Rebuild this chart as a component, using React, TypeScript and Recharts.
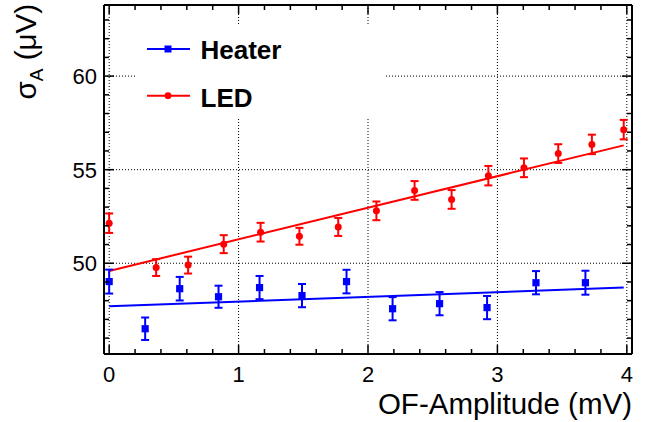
import React from 'react';
import {
  ComposedChart,
  Scatter,
  Line,
  XAxis,
  YAxis,
  ErrorBar,
  ReferenceLine,
  Legend,
} from 'recharts';

// LED pulses (red circles)
const ledX = [0, 0.363, 0.61, 0.885, 1.17, 1.47, 1.77, 2.065, 2.36, 2.646, 2.93, 3.205, 3.47, 3.73, 3.976];
const ledY = [52.14, 49.77, 49.9, 51.02, 51.66, 51.44, 51.94, 52.8, 53.89, 53.41, 54.68, 55.1, 55.86, 56.35, 57.14];
const ledErr = [0.52, 0.45, 0.45, 0.48, 0.5, 0.45, 0.48, 0.5, 0.5, 0.5, 0.52, 0.5, 0.5, 0.52, 0.52];

// Heater pulses (blue squares)
const heaterX = [0, 0.278, 0.545, 0.845, 1.162, 1.49, 1.834, 2.19, 2.553, 2.92, 3.298, 3.68];
const heaterY = [49.02, 46.5, 48.64, 48.21, 48.7, 48.27, 49.02, 47.57, 47.84, 47.63, 48.96, 48.96];
const heaterErr = [0.64, 0.6, 0.63, 0.59, 0.62, 0.62, 0.63, 0.62, 0.62, 0.62, 0.62, 0.64];

// linear fits (end points)
const fitX = [0, 3.976];
const ledFitY = [49.59, 56.3];
const heaterFitY = [47.7, 48.7];

// axes
const xDomain = [-0.04, 4.04];
const yDomain = [45.15, 63.8];
const xTicks = [0, 0.2, 0.4, 0.6, 0.8, 1, 1.2, 1.4, 1.6, 1.8, 2, 2.2, 2.4, 2.6, 2.8, 3, 3.2, 3.4, 3.6, 3.8, 4];
const yTicks = [46, 47, 48, 49, 50, 51, 52, 53, 54, 55, 56, 57, 58, 59, 60, 61, 62, 63];
const gridX = [0, 1, 2, 3, 4];
const gridY = [50, 55, 60];

const RED = '#ff0000';
const BLUE = '#0000ff';
const FONT = '"Liberation Sans", Arial, Helvetica, sans-serif';

const ledData = ledX.map((x, i) => ({ x, y: ledY[i], err: ledErr[i] }));
const heaterData = heaterX.map((x, i) => ({ x, y: heaterY[i], err: heaterErr[i] }));
const ledFit = fitX.map((x, i) => ({ x, y: ledFitY[i] }));
const heaterFit = fitX.map((x, i) => ({ x, y: heaterFitY[i] }));

const isMajorX = (v: number) => Math.abs(v - Math.round(v)) < 1e-6;
const isMajorY = (v: number) => v % 5 === 0;

function XTick(props: any) {
  const { x, y, payload, side } = props;
  const major = isMajorX(payload.value);
  const len = major ? 9 : 5;
  const dir = side === 'bottom' ? -1 : 1;
  return (
    <g>
      <line x1={x} x2={x} y1={y} y2={y + dir * len} stroke="#000" strokeWidth={1.5} />
      {side === 'bottom' && major && (
        <text x={x} y={y + 28} textAnchor="middle" fontSize={22} fontFamily={FONT} fill="#000">
          {Math.round(payload.value)}
        </text>
      )}
    </g>
  );
}

function YTick(props: any) {
  const { x, y, payload, side } = props;
  const major = isMajorY(payload.value);
  const len = major ? 10 : 5;
  const dir = side === 'left' ? 1 : -1;
  return (
    <g>
      <line x1={x} x2={x + dir * len} y1={y} y2={y} stroke="#000" strokeWidth={1.5} />
      {side === 'left' && major && (
        <text x={x - 7} y={y + 8} textAnchor="end" fontSize={22} fontFamily={FONT} fill="#000">
          {payload.value}
        </text>
      )}
    </g>
  );
}

const Square = (p: any) => <rect x={p.cx - 3.6} y={p.cy - 3.6} width={7.2} height={7.2} fill={BLUE} />;
const Dot = (p: any) => <circle cx={p.cx} cy={p.cy} r={3.5} fill={RED} />;

function LegendBox() {
  return (
    <svg width={249} height={93} style={{ display: 'block' }}>
      <line x1={10} x2={53} y1={24} y2={24} stroke={BLUE} strokeWidth={2} />
      <rect x={27.5} y={20.5} width={7} height={7} fill={BLUE} />
      <text x={63.5} y={33.5} fontSize={26} fontWeight="bold" fontFamily={FONT} fill="#000">
        Heater
      </text>
      <line x1={10} x2={53} y1={70.7} y2={70.7} stroke={RED} strokeWidth={2} />
      <circle cx={31} cy={70.7} r={3.4} fill={RED} />
      <text x={63.5} y={81.7} fontSize={26} fontWeight="bold" fontFamily={FONT} fill="#000">
        LED
      </text>
    </svg>
  );
}

const frame = { stroke: '#000', strokeWidth: 2 };

export default function App() {
  return (
    <div style={{ position: 'absolute', left: 0, top: 0, width: 664, height: 422, background: '#fff' }}>
      <ComposedChart width={664} height={422} margin={{ top: 4, right: 31, bottom: 67, left: 103 }}>
        <XAxis
          xAxisId="b"
          dataKey="x"
          type="number"
          orientation="bottom"
          domain={xDomain}
          allowDataOverflow
          ticks={xTicks}
          interval={0}
          height={1}
          tickSize={0}
          tickMargin={0}
          tickLine={false}
          axisLine={frame}
          tick={(p: any) => <XTick {...p} side="bottom" />}
          label={{
            content: () => (
              <text x={632} y={414} textAnchor="end" fontSize={29.5} fontFamily={FONT} fill="#000">
                OF-Amplitude (mV)
              </text>
            ),
          }}
        />
        <XAxis
          xAxisId="t"
          dataKey="x"
          type="number"
          orientation="top"
          domain={xDomain}
          allowDataOverflow
          ticks={xTicks}
          interval={0}
          height={1}
          tickSize={0}
          tickMargin={0}
          tickLine={false}
          axisLine={frame}
          tick={(p: any) => <XTick {...p} side="top" />}
        />
        <YAxis
          yAxisId="l"
          dataKey="y"
          type="number"
          orientation="left"
          domain={yDomain}
          allowDataOverflow
          ticks={yTicks}
          interval={0}
          width={1}
          tickSize={0}
          tickMargin={0}
          tickLine={false}
          axisLine={frame}
          tick={(p: any) => <YTick {...p} side="left" />}
          label={{
            content: () => (
              <text
                transform="translate(36,4) rotate(-90)"
                textAnchor="end"
                fontSize={29.5}
                fontFamily={FONT}
                fill="#000"
              >
                <tspan>σ</tspan>
                <tspan dy={7} fontSize={19}>A</tspan>
                <tspan dy={-7}> (μV)</tspan>
              </text>
            ),
          }}
        />
        <YAxis
          yAxisId="r"
          dataKey="y"
          type="number"
          orientation="right"
          domain={yDomain}
          allowDataOverflow
          ticks={yTicks}
          interval={0}
          width={1}
          tickSize={0}
          tickMargin={0}
          tickLine={false}
          axisLine={frame}
          tick={(p: any) => <YTick {...p} side="right" />}
        />

        {gridX.map((v) => (
          <ReferenceLine key={`gx${v}`} xAxisId="b" yAxisId="l" x={v} stroke="#000" strokeWidth={1} strokeDasharray="1 2" />
        ))}
        {gridY.map((v) => (
          <ReferenceLine key={`gy${v}`} xAxisId="b" yAxisId="l" y={v} stroke="#000" strokeWidth={1} strokeDasharray="1 2" />
        ))}

        <Line
          xAxisId="b"
          yAxisId="l"
          data={ledFit}
          dataKey="y"
          stroke={RED}
          strokeWidth={2}
          dot={false}
          isAnimationActive={false}
        />
        <Line
          xAxisId="b"
          yAxisId="l"
          data={heaterFit}
          dataKey="y"
          stroke={BLUE}
          strokeWidth={2}
          dot={false}
          isAnimationActive={false}
        />
        <Scatter xAxisId="b" yAxisId="l" data={heaterData} shape={Square} isAnimationActive={false}>
          <ErrorBar dataKey="err" direction="y" width={4} strokeWidth={2} stroke={BLUE} isAnimationActive={false} />
        </Scatter>
        <Scatter xAxisId="b" yAxisId="l" data={ledData} shape={Dot} isAnimationActive={false}>
          <ErrorBar dataKey="err" direction="y" width={4} strokeWidth={2} stroke={RED} isAnimationActive={false} />
        </Scatter>

        <Legend
          layout="vertical"
          align="center"
          verticalAlign="middle"
          content={() => <LegendBox />}
          wrapperStyle={{ left: 137, top: 25, width: 249, height: 93, background: '#fff' }}
        />
      </ComposedChart>
    </div>
  );
}
